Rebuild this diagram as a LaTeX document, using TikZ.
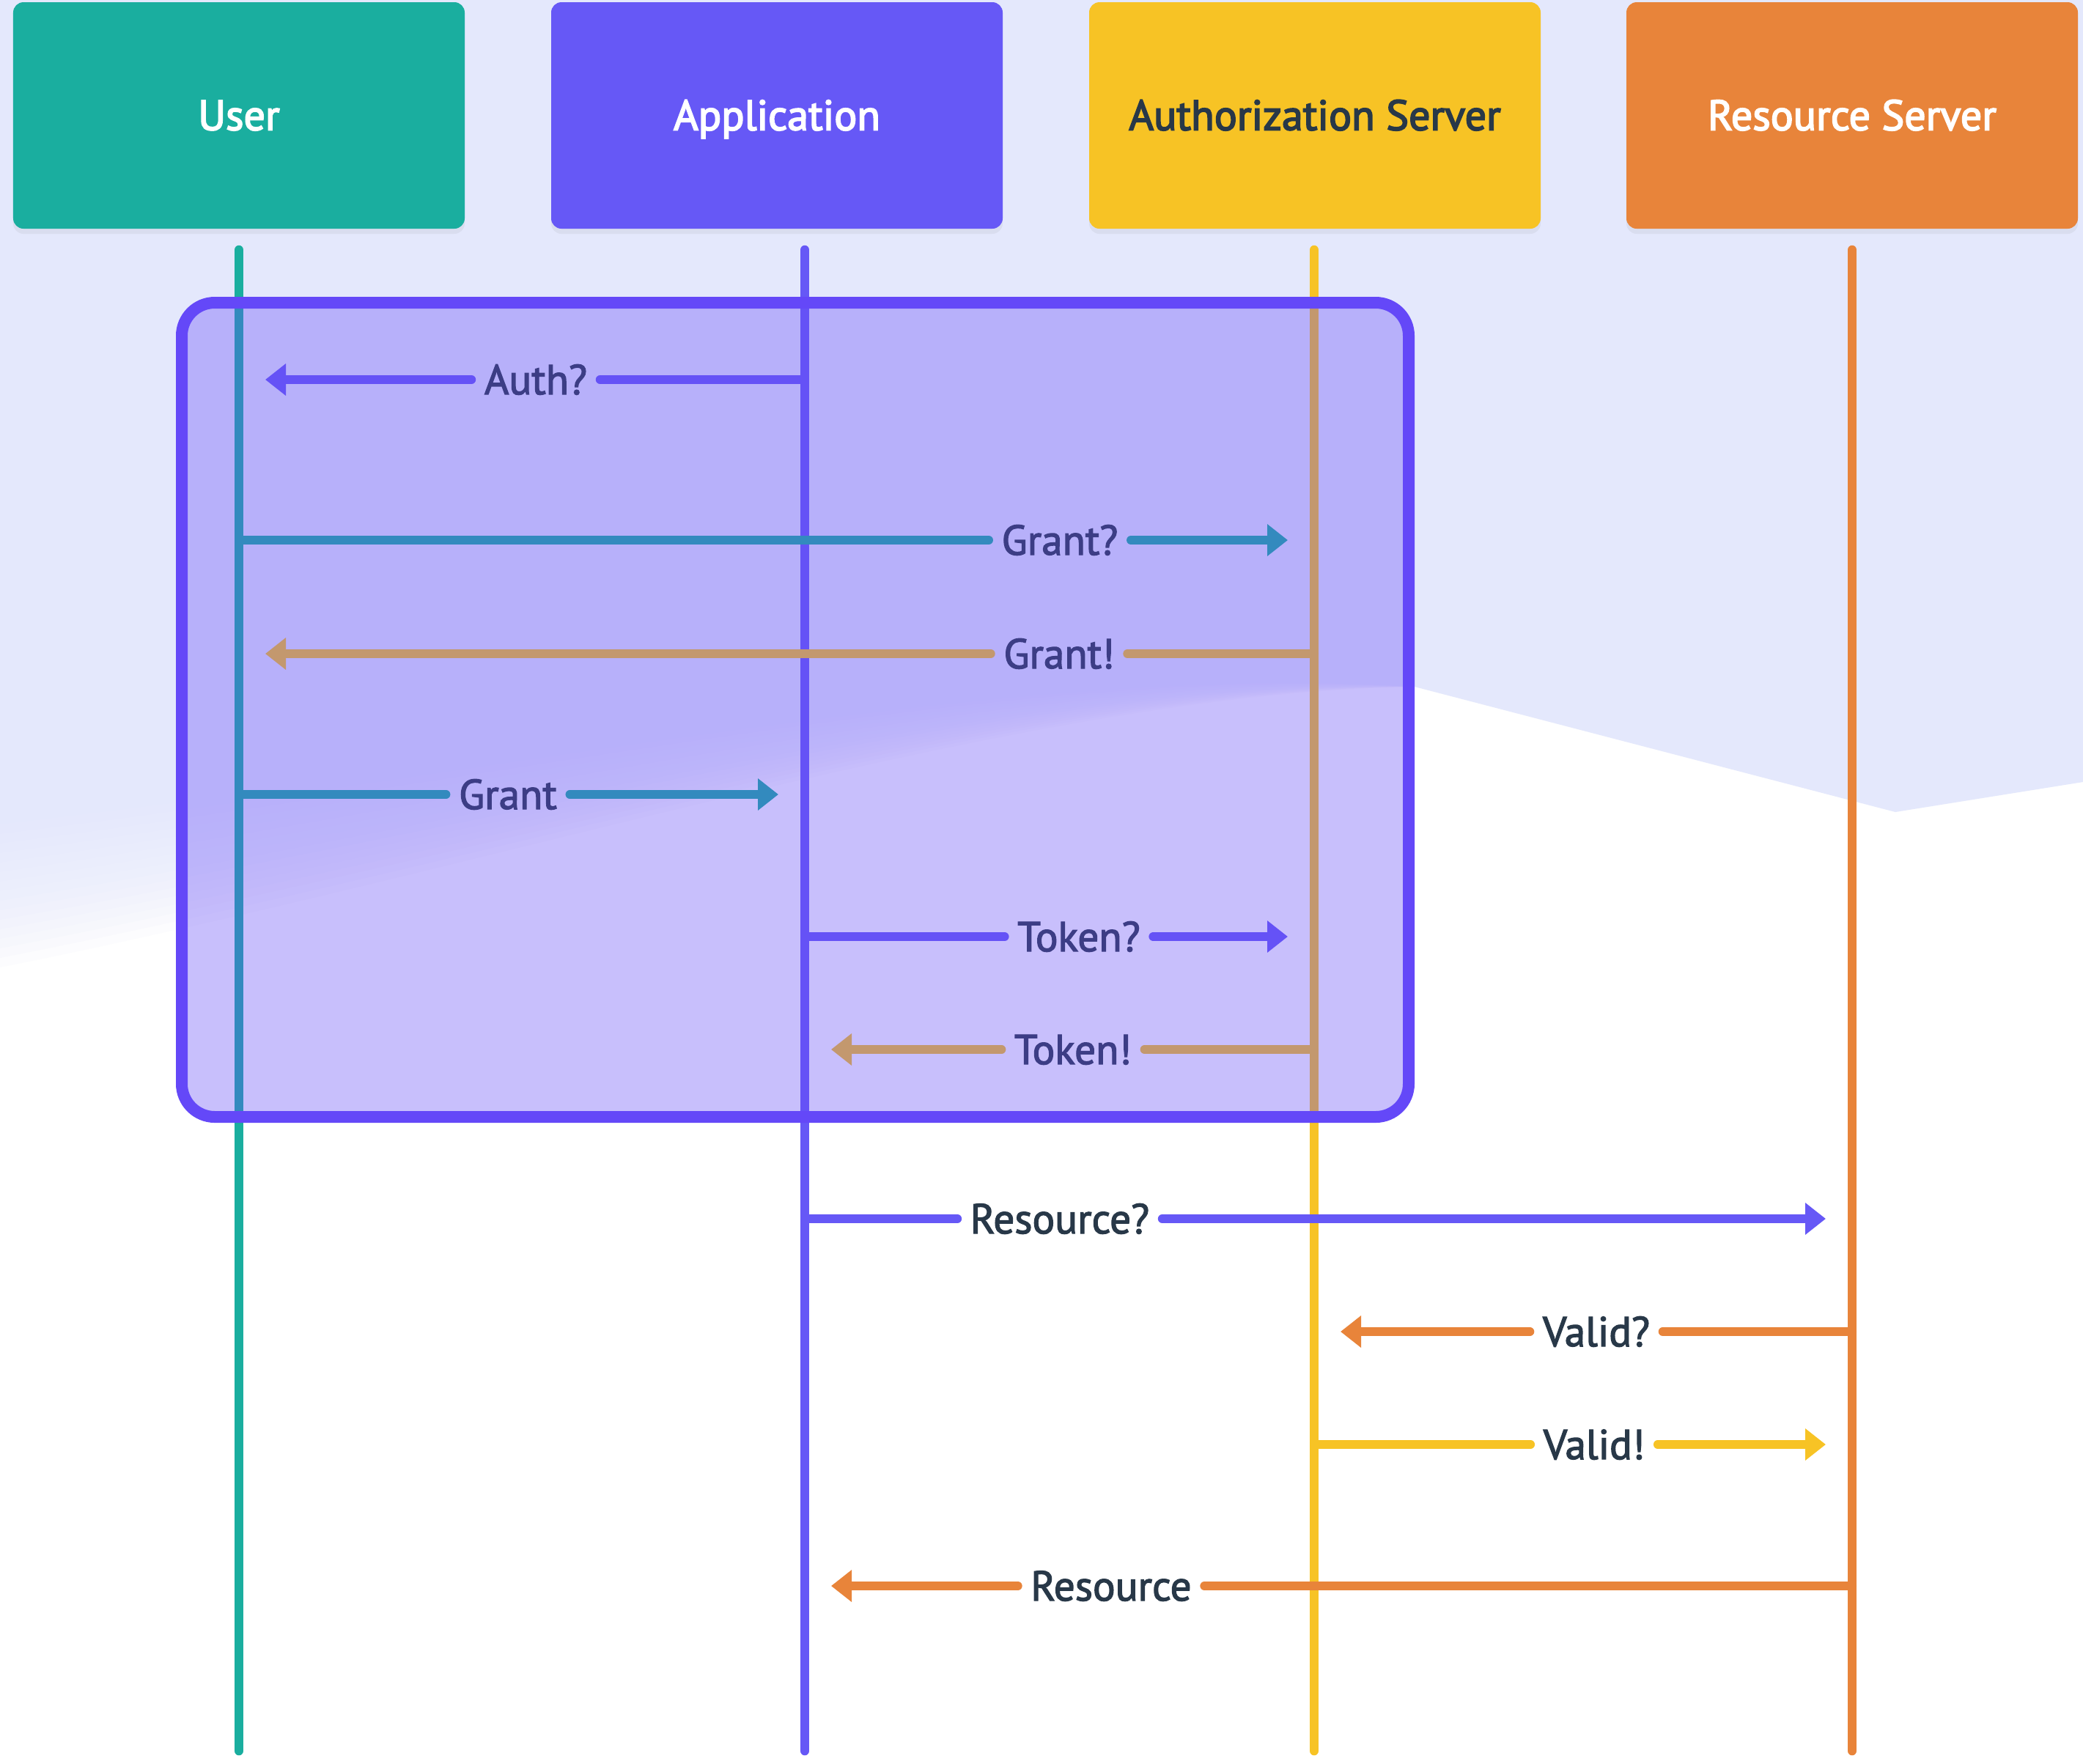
\documentclass[tikz,border=0pt]{standalone}
\usepackage{fontspec}
\setmainfont{PT Sans}
\newfontfamily\lblfont{PT Sans}[FakeBold=2.2]
\newfontfamily\hdrfont{PT Sans}[FakeBold=3.0]
\usetikzlibrary{positioning,arrows.meta,shadows}

\definecolor{userteal}{HTML}{1AAE9F}
\definecolor{appviolet}{HTML}{6658F6}
\definecolor{authyellow}{HTML}{F7C325}
\definecolor{resorange}{HTML}{E8843A}
\definecolor{groupviolet}{HTML}{6448F8}
\definecolor{textdark}{HTML}{283848}
\definecolor{bglav}{HTML}{E4E8FC}

\begin{document}
\begin{tikzpicture}[
  >={Triangle[length=0.28cm,width=0.42cm]},
  font=\lblfont\fontsize{16.3}{19}\selectfont,
  actor/.style={
    rectangle, rounded corners=4pt, minimum width=6.16cm, minimum height=3.09cm,
    font=\hdrfont\fontsize{16.5}{19}\selectfont,
    text height=0.40cm, text depth=0pt, inner sep=0pt,
    drop shadow={shadow xshift=0pt, shadow yshift=-0.07cm, opacity=0.10}
  },
  life/.style={line width=0.125cm, line cap=round},
  msg/.style={line width=0.12cm, line cap=round},
  lbl/.style={
    text=textdark, text height=0.40cm, text depth=0pt, inner xsep=0.17cm, inner ysep=0pt
  },
  group/.style={
    rectangle, rounded corners=0.45cm, draw=groupviolet, line width=0.16cm,
    fill=groupviolet, fill opacity=0.35, draw opacity=1,
    minimum width=16.74cm, minimum height=11.11cm, inner sep=0pt
  }
]

% page and background
\useasboundingbox (0,0) rectangle (28.42,-24.06);
\fill[white] (0,0) rectangle (28.42,-24.06);
\fill[bglav] (0,0) -- (28.42,0) -- (28.42,-10.67) -- (25.86,-11.08) -- (19.3,-9.37)
  -- (19.3,-8.8) -- (0,-8.8) -- cycle;
% soft lower edge of the backdrop
\foreach \s in {0,0.05,...,1.01}
  \fill[bglav, fill opacity=0.1] (0,-8.8) -- (19.3,-8.8) -- (19.3,-9.37)
    .. controls (14,-8.85-0.6*\s) and (7,-10.0-1.8*\s) .. (0,-10.6-2.6*\s) -- cycle;

% participants
\node[actor, fill=userteal, text=white] (user) at (3.26,-1.575) {User};
\node[actor, fill=appviolet, text=white] (app) at (10.60,-1.575) {Application};
\node[actor, fill=authyellow, text=textdark] (auth) at (17.94,-1.575) {Authorization Server};
\node[actor, fill=resorange, text=white] (res) at (25.27,-1.575) {Resource Server};

% lifelines
\coordinate (userTop) at (3.26,-3.41);
\coordinate (userBot) at (3.26,-23.89);
\coordinate (appTop) at (10.98,-3.41);
\coordinate (appBot) at (10.98,-23.89);
\coordinate (authTop) at (17.93,-3.41);
\coordinate (authBot) at (17.93,-23.89);
\coordinate (resTop) at (25.27,-3.41);
\coordinate (resBot) at (25.27,-23.89);

\draw[life, userteal] (userTop) -- (userBot);
\draw[life, appviolet] (appTop) -- (appBot);
\draw[life, authyellow] (authTop) -- (authBot);
\draw[life, resorange] (resTop) -- (resBot);

% messages
\node[lbl] (authQ) at (7.31,-5.18) {Auth?};
\draw[msg, appviolet] (appTop |- authQ) -- (authQ.east);
\draw[msg, appviolet, ->] (authQ.west) -- ([xshift=0.36cm]userTop |- authQ);

\node[lbl] (grantQ) at (14.46,-7.37) {Grant?};
\draw[msg, userteal] (userTop |- grantQ) -- (grantQ.west);
\draw[msg, userteal, ->] (grantQ.east) -- ([xshift=-0.36cm]authTop |- grantQ);

\node[lbl] (grantX) at (14.45,-8.92) {Grant!};
\draw[msg, authyellow] (authTop |- grantX) -- (grantX.east);
\draw[msg, authyellow, ->] (grantX.west) -- ([xshift=0.36cm]userTop |- grantX);

\node[lbl] (grant) at (6.93,-10.84) {Grant};
\draw[msg, userteal] (userTop |- grant) -- (grant.west);
\draw[msg, userteal, ->] (grant.east) -- ([xshift=-0.36cm]appTop |- grant);

\node[lbl] (tokenQ) at (14.72,-12.78) {Token?};
\draw[msg, appviolet] (appTop |- tokenQ) -- (tokenQ.west);
\draw[msg, appviolet, ->] (tokenQ.east) -- ([xshift=-0.36cm]authTop |- tokenQ);

\node[lbl] (tokenX) at (14.64,-14.32) {Token!};
\draw[msg, authyellow] (authTop |- tokenX) -- (tokenX.east);
\draw[msg, authyellow, ->] (tokenX.west) -- ([xshift=0.36cm]appTop |- tokenX);

\node[lbl] (resQ) at (14.46,-16.63) {Resource?};
\draw[msg, appviolet] (appTop |- resQ) -- (resQ.west);
\draw[msg, appviolet, ->] (resQ.east) -- ([xshift=-0.36cm]resTop |- resQ);

\node[lbl] (validQ) at (21.78,-18.17) {Valid?};
\draw[msg, resorange] (resTop |- validQ) -- (validQ.east);
\draw[msg, resorange, ->] (validQ.west) -- ([xshift=0.36cm]authTop |- validQ);

\node[lbl] (validX) at (21.75,-19.71) {Valid!};
\draw[msg, authyellow] (authTop |- validX) -- (validX.west);
\draw[msg, authyellow, ->] (validX.east) -- ([xshift=-0.36cm]resTop |- validX);

\node[lbl] (resX) at (15.16,-21.64) {Resource};
\draw[msg, resorange] (resTop |- resX) -- (resX.east);
\draw[msg, resorange, ->] (resX.west) -- ([xshift=0.36cm]appTop |- resX);

% token exchange group
\node[group] (grp) at (10.85,-9.685) {};

\end{tikzpicture}
\end{document}
